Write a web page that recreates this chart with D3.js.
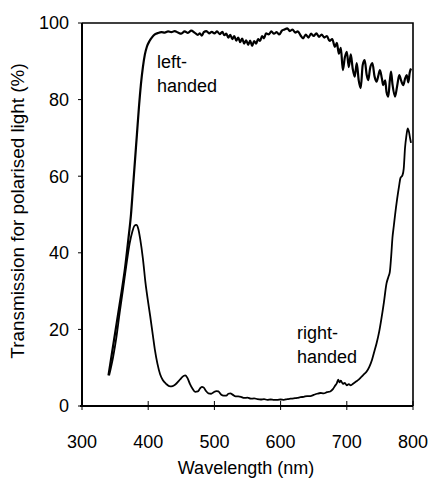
<!DOCTYPE html>
<html lang="en">
<head>
    <meta charset="UTF-8">
    <title>Transmission</title>
    <style>
        body { margin: 0; background: #fff; }
        text { font-family: "Liberation Sans", Arial, sans-serif; fill: #000; }
    </style>
</head>
<body>
    <script src="https://d3js.org/d3.v7.min.js"></script>
    <script>
        // 数据：波长 (nm) 与透过率 (%)
        var leftWl = [340, 345, 350, 355, 360, 365, 370, 374, 377, 380, 383, 386, 389, 392, 395, 398, 402, 406, 410, 415,
            420, 425, 430, 435, 440, 445, 450, 455, 460, 465, 470, 475, 478, 481, 484, 488, 492, 496, 500, 504,
            508, 512, 515, 518, 521, 524, 527, 530, 533, 536, 539, 542, 545, 548, 551, 554, 557, 560, 563, 566,
            569, 572, 575, 578, 582, 586, 590, 594, 598, 602, 606, 610, 614, 618, 622, 626, 630, 634, 638, 642,
            646, 650, 654, 658, 662, 666, 670, 674, 678, 682, 685, 688, 691, 694, 697, 700, 703, 706, 709, 712,
            715, 718, 721, 724, 727, 730, 732.5, 735, 738.6, 742, 745, 748, 750, 753, 755, 758, 760, 762.7, 765, 766.8,
            769, 772.8, 776, 779.3, 782, 785.4, 788, 790.5, 793, 795, 797];
        var leftT = [8, 13.5, 19, 24.5, 30, 36, 43.5, 50, 57, 64, 71, 78, 84, 88.5, 91.8, 93.8, 95.3, 96.3, 97, 97.4,
            97.6, 97.5, 97.8, 97.6, 97.9, 97.5, 97.2, 97.8, 97.4, 98, 97.5, 96.9, 97.3, 96.7, 97.6, 97.9, 97.3, 97.7, 97.3, 97.8,
            97.1, 97.7, 96.8, 97.2, 96.2, 96.9, 95.8, 96.6, 95.4, 96.2, 95.0, 95.9, 94.6, 95.5, 94.3, 95.4, 94.0, 95.3, 94.6, 95.8,
            95.3, 96.6, 96.0, 97.3, 97.0, 97.8, 97.2, 97.6, 97.0, 98.0, 98.3, 98.6, 97.9, 98.3, 97.5, 97.8, 96.8, 96.0, 97.0, 96.2,
            97.2, 96.6, 97.3, 96.4, 97.0, 96.2, 96.6, 95.3, 95.8, 93.8, 94.8, 92.0, 93.5, 87.7, 91.0, 92.5, 88.5, 91.8, 88.0, 86.0,
            89.5, 85.0, 83.0, 89.0, 90.3, 86.5, 85.1, 88.0, 89.5, 86.0, 84.7, 86.5, 87.7, 85.5, 83.8, 85.0, 82.0, 80.8, 85.0, 87.3,
            84.0, 80.8, 83.5, 86.4, 85.0, 83.8, 85.5, 86.4, 84.5, 87.0, 88.1];

        var rightWl = [341, 347, 352, 357, 362, 368, 372, 376, 379, 382, 385, 388, 392, 396, 400, 403, 407, 410, 414, 418,
            422, 427, 433, 437, 441, 446, 450, 454, 456, 459, 463, 467, 471, 475, 478, 481, 484, 487, 491, 495,
            499, 503, 506, 510, 514, 518, 521, 524, 528, 532, 536, 540, 545, 550, 555, 560, 565, 570, 575, 580,
            585, 590, 595, 600, 605, 610, 615, 620, 625, 630, 635, 640, 645, 650, 655, 660, 665, 670, 675, 679,
            682, 685, 687, 689, 691, 694, 697, 700, 703, 706, 710, 714, 718, 722, 726, 730, 734, 738, 742, 745,
            749, 752, 756, 760, 763, 765, 767, 769, 771, 773, 776, 779, 781, 784, 786, 788, 790, 792, 794, 795.5, 797];
        var rightT = [8, 12.8, 18, 24.5, 30.5, 38, 42.5, 45.5, 47, 47.3, 46.3, 43.5, 38.5, 32, 27, 23.5, 18.5, 14.8, 11, 8.3,
            6.8, 5.8, 5.1, 5.2, 5.6, 6.5, 7.3, 7.9, 8, 7.4, 5.8, 4.5, 3.7, 3.8, 4.5, 5.0, 4.8, 4.0, 3.3, 3.2,
            3.6, 3.9, 3.8, 3.0, 2.7, 2.7, 3.2, 3.3, 2.9, 2.5, 2.5, 2.4, 2.1, 2.2, 1.9, 2.0, 1.8, 1.7, 1.8, 1.6,
            1.7, 1.6, 1.6, 1.7, 1.6, 1.8, 1.9, 2.0, 2.1, 2.3, 2.4, 2.6, 2.6, 2.9, 3.2, 3.4, 3.3, 3.6, 3.8, 4.4,
            5.2, 6.0, 6.9, 6.2, 6.6, 5.8, 6.0, 5.4, 5.7, 5.4, 5.9, 6.4, 6.9, 7.6, 8.3, 9.0, 10.2, 12, 14.5, 16.4,
            19.5, 22.5, 27, 32, 33.8, 35, 39, 44, 47, 50, 54, 57.5, 59.5, 60.2, 62, 67.5, 70.5, 72.5, 71.5, 70, 68.7];

        var xTicks = [300, 400, 500, 600, 700, 800];
        var yTicks = [0, 20, 40, 60, 80, 100];

        const width = 429,
              height = 482;

        var svg = d3.select('body')
                    .append('svg')
                    .attr('width', width)
                    .attr('height', height);

        var x = d3.scaleLinear().domain([300, 800]).range([82, 413]);
        var y = d3.scaleLinear().domain([0, 100]).range([406, 23]);

        var line = d3.line()
            .x(function(d){ return x(d[0]); })
            .y(function(d){ return y(d[1]); })
            .curve(d3.curveMonotoneX);

        var left = d3.zip(leftWl, leftT),
            right = d3.zip(rightWl, rightT);

        // 边框（上、右）
        svg.append('path')
            .attr('d', 'M' + x(300) + ',' + y(100) + 'H' + x(800) + 'V' + y(0))
            .attr('fill', 'none')
            .attr('stroke', '#000')
            .attr('stroke-width', 1.6);

        // 曲线
        svg.append('path')
            .datum(left)
            .attr('d', line)
            .attr('fill', 'none')
            .attr('stroke', '#000')
            .attr('stroke-width', 2.2)
            .attr('stroke-linejoin', 'round');

        svg.append('path')
            .datum(right)
            .attr('d', line)
            .attr('fill', 'none')
            .attr('stroke', '#000')
            .attr('stroke-width', 1.8)
            .attr('stroke-linejoin', 'round');

        // x 轴：刻度穿过轴线
        var xAxis = svg.append('g');
        xAxis.append('line')
            .attr('x1', x(300) - 2).attr('x2', x(800))
            .attr('y1', y(0)).attr('y2', y(0))
            .attr('stroke', '#000').attr('stroke-width', 2);
        xAxis.selectAll('line.tick')
            .data(xTicks)
            .enter()
            .append('line')
            .attr('class', 'tick')
            .attr('x1', function(d){ return x(d); })
            .attr('x2', function(d){ return x(d); })
            .attr('y1', y(0) - 5)
            .attr('y2', y(0) + 4)
            .attr('stroke', '#000')
            .attr('stroke-width', 1);
        xAxis.selectAll('text')
            .data(xTicks)
            .enter()
            .append('text')
            .attr('x', function(d){ return x(d); })
            .attr('y', 448)
            .attr('text-anchor', 'middle')
            .attr('font-size', '18px')
            .text(function(d){ return d; });

        // y 轴：刻度朝外
        var yAxis = svg.append('g');
        yAxis.append('line')
            .attr('x1', x(300)).attr('x2', x(300))
            .attr('y1', y(100)).attr('y2', y(0) + 1)
            .attr('stroke', '#000').attr('stroke-width', 2);
        yAxis.selectAll('line.tick')
            .data(yTicks)
            .enter()
            .append('line')
            .attr('class', 'tick')
            .attr('x1', x(300) - 4)
            .attr('x2', x(300))
            .attr('y1', function(d){ return y(d); })
            .attr('y2', function(d){ return y(d); })
            .attr('stroke', '#000')
            .attr('stroke-width', 1);
        yAxis.selectAll('text')
            .data(yTicks)
            .enter()
            .append('text')
            .attr('x', 69)
            .attr('y', function(d){ return y(d); })
            .attr('dy', '0.35em')
            .attr('text-anchor', 'end')
            .attr('font-size', '18px')
            .text(function(d){ return d; });

        // 轴标题
        svg.append('text')
            .attr('x', 246)
            .attr('y', 474)
            .attr('text-anchor', 'middle')
            .attr('font-size', '18px')
            .text('Wavelength (nm)');

        svg.append('text')
            .attr('transform', 'translate(24,211) rotate(-90)')
            .attr('text-anchor', 'middle')
            .attr('font-size', '18.9px')
            .text('Transmission for polarised light (%)');

        // 标注
        var notes = [
            { x: 157, y: 68, lines: ['left-', 'handed'] },
            { x: 297, y: 339, lines: ['right-', 'handed'] }
        ];
        notes.forEach(function(n){
            svg.append('text')
                .attr('x', n.x)
                .attr('y', n.y)
                .attr('font-size', '18px')
                .selectAll('tspan')
                .data(n.lines)
                .enter()
                .append('tspan')
                .attr('x', n.x)
                .attr('dy', function(d, i){ return i ? 24 : 0; })
                .text(function(d){ return d; });
        });
    </script>
</body>
</html>
